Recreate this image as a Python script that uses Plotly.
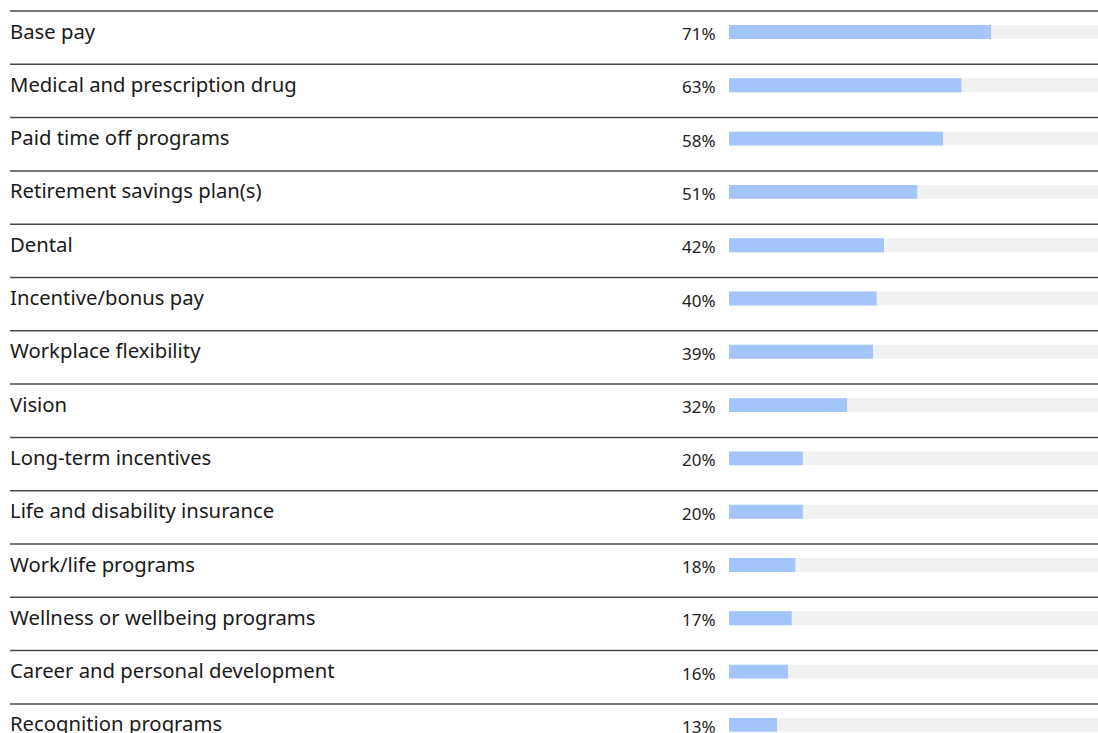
import plotly.graph_objects as go

categories = [
    "Base pay",
    "Medical and prescription drug",
    "Paid time off programs",
    "Retirement savings plan(s)",
    "Dental",
    "Incentive/bonus pay",
    "Workplace flexibility",
    "Vision",
    "Long-term incentives",
    "Life and disability insurance",
    "Work/life programs",
    "Wellness or wellbeing programs",
    "Career and personal development",
    "Recognition programs",
]
values = [71, 63, 58, 51, 42, 40, 39, 32, 20, 20, 18, 17, 16, 13]
track_max = [100] * len(categories)

W, H = 1098, 733
ROW = 53.3          # px per row
BAR_TOP = 32        # px from top to first bar centre
positions = list(range(len(categories)))

BLUE = "#a3c5fa"
TRACK = "#f0f1f1"

fig = go.Figure()
fig.add_trace(go.Bar(
    y=positions, x=track_max, orientation="h",
    marker=dict(color=TRACK, line=dict(width=0)),
    width=0.26, hoverinfo="skip", showlegend=False,
))
fig.add_trace(go.Bar(
    y=positions, x=values, orientation="h",
    marker=dict(color=BLUE, line=dict(width=0)),
    width=0.26, showlegend=False,
))

# separator rule above each row
for i in positions:
    fig.add_shape(
        type="line", xref="paper", yref="y",
        x0=10 / W, x1=1, y0=i - 21 / ROW, y1=i - 21 / ROW,
        line=dict(color="#4a4a4a", width=1.5),
    )

for i, (cat, v) in enumerate(zip(categories, values)):
    fig.add_annotation(
        xref="paper", yref="y", x=8 / W, y=i - 1.5 / ROW,
        text=cat, showarrow=False, xanchor="left", yanchor="middle",
        font=dict(family="Noto Sans", size=20.3, color="#1a1a1a"),
    )
    # value label, left-aligned in a column just before the track
    fig.add_annotation(
        xref="x", yref="y", x=0, y=i + 1.5 / ROW, xshift=-49,
        text=f"{v}%", showarrow=False, xanchor="left", yanchor="middle",
        font=dict(family="Noto Sans", size=17, color="#222222"),
    )

top = -BAR_TOP / ROW
bottom = (H - BAR_TOP) / ROW
fig.update_layout(
    width=W, height=H,
    margin=dict(l=0, r=0, t=0, b=0),
    paper_bgcolor="white", plot_bgcolor="white",
    barmode="overlay",
    xaxis=dict(domain=[729 / W, 1], range=[0, 100], visible=False, fixedrange=True),
    yaxis=dict(range=[bottom, top], visible=False, fixedrange=True),
)

fig.write_html("out.html")
